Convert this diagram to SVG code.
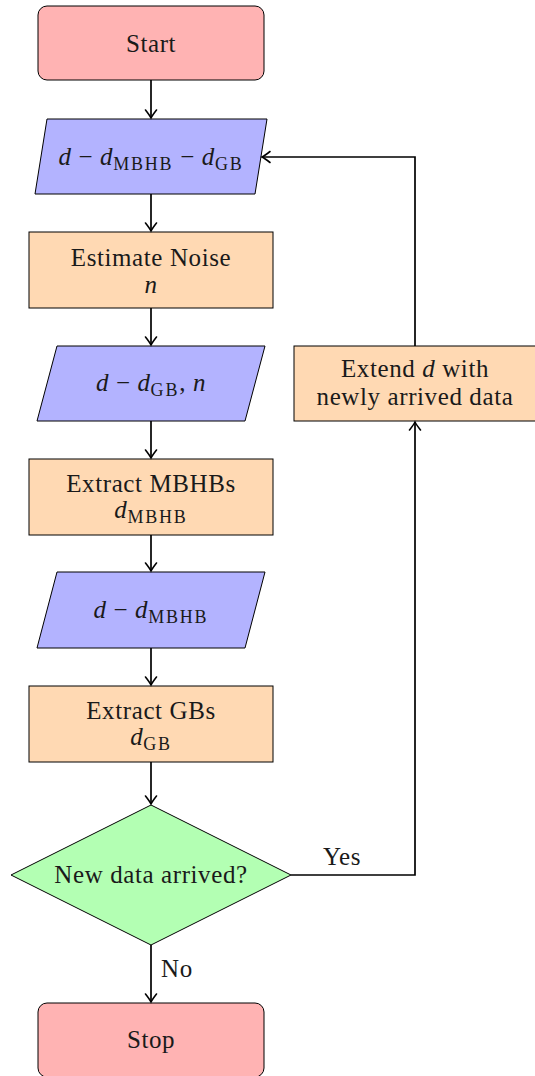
<svg xmlns="http://www.w3.org/2000/svg" width="535" height="1076" viewBox="0 0 535 1076">
<defs>
<marker id="ah" viewBox="-10 -7 12 14" refX="0" refY="0" markerWidth="12" markerHeight="14" markerUnits="userSpaceOnUse" orient="auto" overflow="visible">
<path d="M-8,-5.5 Q-2.5,-1.2 0,0 Q-2.5,1.2 -8,5.5" fill="none" stroke="#000" stroke-width="1.6" stroke-linecap="round"/>
</marker>
</defs>
<style>
text{font-family:'Liberation Serif',serif;font-size:25px;fill:#1a1a1a;text-anchor:middle;letter-spacing:0.6px}
.i{font-style:italic}
.s{font-size:18px;letter-spacing:1.8px}
.term{fill:#ffb3b3;stroke:#000;stroke-width:1}
.io{fill:#b3b3ff;stroke:#000;stroke-width:1}
.proc{fill:#ffd9b3;stroke:#000;stroke-width:1}
.dec{fill:#b3ffb3;stroke:#000;stroke-width:1}
.c{fill:none;stroke:#000;stroke-width:1.7;marker-end:url(#ah)}
</style>
<g id="start"><rect class="term" x="38" y="6" width="226" height="74" rx="9"/><text x="151" y="52">Start</text></g>
<g id="io1"><polygon class="io" points="47,119 267,119 255,194 35,194"/><text x="151" y="165"><tspan class="i">d</tspan> − <tspan class="i">d</tspan><tspan class="s" dy="5">MBHB</tspan><tspan dy="-5"> − </tspan><tspan class="i">d</tspan><tspan class="s" dy="5">GB</tspan></text></g>
<g id="noise"><rect class="proc" x="29" y="232" width="244" height="76"/><text x="151" y="266">Estimate Noise</text><text class="i" x="151" y="293">n</text></g>
<g id="io2"><polygon class="io" points="57,346 265,346 245,421 37,421"/><text x="151" y="391"><tspan class="i">d</tspan> − <tspan class="i">d</tspan><tspan class="s" dy="5">GB</tspan><tspan dy="-5">, </tspan><tspan class="i">n</tspan></text></g>
<g id="mbhb"><rect class="proc" x="29" y="459" width="244" height="76"/><text x="151" y="492">Extract MBHBs</text><text x="151" y="518"><tspan class="i">d</tspan><tspan class="s" dy="5">MBHB</tspan></text></g>
<g id="io3"><polygon class="io" points="57,572 265,572 245,648 37,648"/><text x="151" y="618"><tspan class="i">d</tspan> − <tspan class="i">d</tspan><tspan class="s" dy="5">MBHB</tspan></text></g>
<g id="gb"><rect class="proc" x="29" y="686" width="244" height="76"/><text x="151" y="719">Extract GBs</text><text x="151" y="745"><tspan class="i">d</tspan><tspan class="s" dy="5">GB</tspan></text></g>
<g id="decision"><polygon class="dec" points="151,805 291,875 151,945 11,875"/><text x="151" y="883">New data arrived?</text></g>
<g id="stop"><rect class="term" x="38" y="1003" width="226" height="74" rx="9"/><text x="151" y="1048">Stop</text></g>
<g id="extend"><rect class="proc" x="294" y="346" width="245" height="75"/><text x="415" y="377">Extend <tspan class="i">d</tspan> with</text><text x="415" y="405">newly arrived data</text></g>
<g id="connectors">
<path class="c" d="M151,80 V118"/>
<path class="c" d="M151,194 V231"/>
<path class="c" d="M151,308 V345"/>
<path class="c" d="M151,421 V458"/>
<path class="c" d="M151,535 V571"/>
<path class="c" d="M151,648 V685"/>
<path class="c" d="M151,762 V804"/>
<path class="c" d="M151,945 V1002"/>
<path class="c" d="M291,875 H415 V422"/>
<path class="c" d="M415,346 V157 H262"/>
<text x="342" y="865">Yes</text>
<text x="161" y="977" style="text-anchor:start">No</text>
</g>
</svg>
